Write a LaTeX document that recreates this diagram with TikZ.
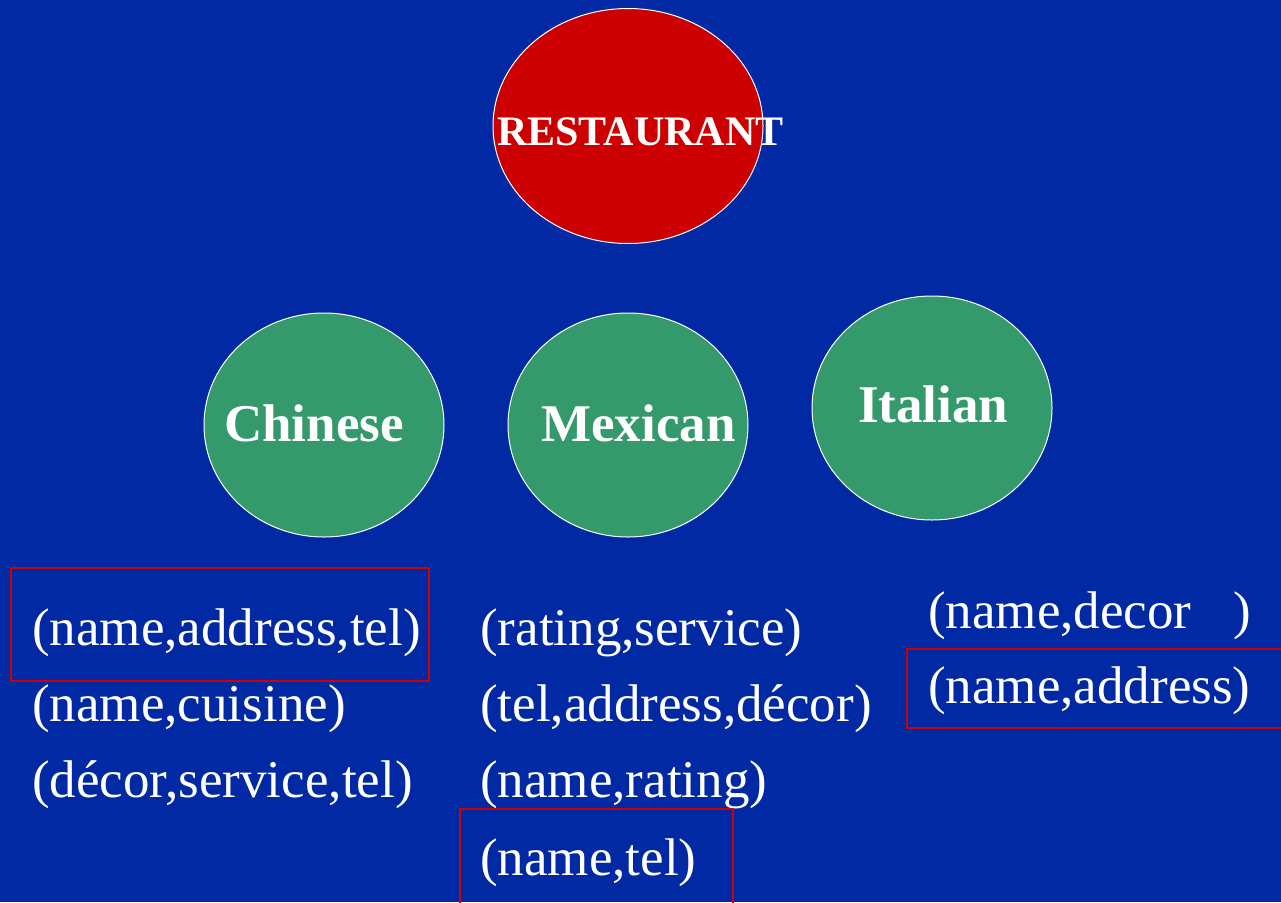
\documentclass[tikz,border=0pt]{standalone}
\usepackage{fontspec}
\setmainfont{Liberation Serif}
\usetikzlibrary{shapes.geometric}
\definecolor{bg}{HTML}{0029A3}
\definecolor{redfill}{HTML}{CC0000}
\definecolor{greenfill}{HTML}{359A6B}
\definecolor{boxred}{HTML}{D00000}
\tikzset{
  blob/.style={ellipse, draw=white, line width=1pt, inner sep=0pt},
  lbl/.style={text=white, font=\fontsize{53}{60}\selectfont\bfseries, inner sep=0pt, anchor=base west},
  item/.style={text=white, font=\fontsize{53}{60}\selectfont, inner sep=0pt, anchor=base west},
  hl/.style={draw=boxred, line width=2pt}
}
\begin{document}
\begin{tikzpicture}[x=1pt,y=-1pt]
\fill[bg] (0,0) rectangle (1281,902);
\useasboundingbox (0,0) rectangle (1281,902);
% ellipses
\node[blob, fill=redfill, minimum width=270pt, minimum height=235pt] (rest) at (628,126) {};
\node[blob, fill=greenfill, minimum width=240pt, minimum height=224pt] (chin) at (324,425) {};
\node[blob, fill=greenfill, minimum width=240pt, minimum height=224pt] (mexi) at (628,425) {};
\node[blob, fill=greenfill, minimum width=240pt, minimum height=224pt] (ital) at (932,408) {};
% labels
\node[lbl, font=\fontsize{42}{48}\selectfont\bfseries] (restl) at (497,145) {RESTAURANT};
\node[lbl] (chinl) at (224,441) {Chinese};
\node[lbl] (mexil) at (541,441) {Mexican};
\node[lbl] (itall) at (858,422) {Italian};
% Chinese column
\node[item] (c1) at (32,645) {(name,address,tel)};
\node[item] (c2) at (32,721) {(name,cuisine)};
\node[item] (c3) at (32,797) {(décor,service,tel)};
% Mexican column
\node[item] (m1) at (480,645) {(rating,service)};
\node[item] (m2) at (480,721) {(tel,address,décor)};
\node[item] (m3) at (480,797) {(name,rating)};
\node[item] (m4) at (480,875) {(name,tel)};
% Italian column
\node[item] (i1) at (928,628) {(name,decor\hspace{42pt})};
\node[item] (i2) at (928,703) {(name,address)};
% highlight boxes
\draw[hl] (11,568) rectangle (429,681);
\draw[hl] (460,809) rectangle (733,910);
\draw[hl] (907,649) rectangle (1290,728);
\end{tikzpicture}
\end{document}
